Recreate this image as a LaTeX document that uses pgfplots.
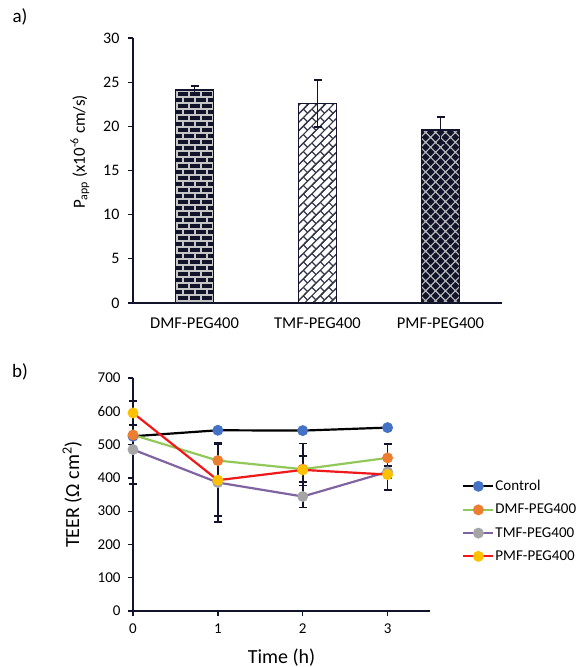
\documentclass[border=0pt]{standalone}
\usepackage{fontspec}
\setmainfont{Carlito}
\usepackage{pgfplots}
\pgfplotsset{compat=1.18}
\usetikzlibrary{patterns,patterns.meta}

\definecolor{dk}{HTML}{11142A}
\definecolor{cblue}{HTML}{4472C4}
\definecolor{corange}{HTML}{ED7D31}
\definecolor{cgray}{HTML}{A5A5A5}
\definecolor{cyellow}{HTML}{FFC000}
\definecolor{lgreen}{HTML}{92C85A}
\definecolor{lpurple}{HTML}{8064A2}
\definecolor{lred}{HTML}{F01818}

% brick tile, used flat for DMF and turned for TMF
\pgfdeclarepattern{
  name=hbricks, type=uncolored,
  bottom left={\pgfpoint{-1pt}{-1pt}},
  top right={\pgfpoint{13pt}{13pt}},
  tile size={\pgfpoint{12pt}{12pt}},
  code={
    \pgfsetlinewidth{1.3pt}
    \pgfpathmoveto{\pgfpoint{-1pt}{0pt}}\pgfpathlineto{\pgfpoint{13pt}{0pt}}
    \pgfpathmoveto{\pgfpoint{-1pt}{6pt}}\pgfpathlineto{\pgfpoint{13pt}{6pt}}
    \pgfpathmoveto{\pgfpoint{-1pt}{12pt}}\pgfpathlineto{\pgfpoint{13pt}{12pt}}
    \pgfpathmoveto{\pgfpoint{3pt}{0pt}}\pgfpathlineto{\pgfpoint{3pt}{6pt}}
    \pgfpathmoveto{\pgfpoint{9pt}{6pt}}\pgfpathlineto{\pgfpoint{9pt}{12pt}}
    \pgfusepath{stroke}
  }
}
\pgfdeclarepattern{
  name=dbricks, type=uncolored,
  bottom left={\pgfpoint{-1pt}{-1pt}},
  top right={\pgfpoint{13pt}{13pt}},
  tile size={\pgfpoint{12pt}{12pt}},
  tile transformation={\pgftransformrotate{45}},
  code={
    \pgfsetlinewidth{1.2pt}
    \pgfpathmoveto{\pgfpoint{-1pt}{0pt}}\pgfpathlineto{\pgfpoint{13pt}{0pt}}
    \pgfpathmoveto{\pgfpoint{-1pt}{6pt}}\pgfpathlineto{\pgfpoint{13pt}{6pt}}
    \pgfpathmoveto{\pgfpoint{-1pt}{12pt}}\pgfpathlineto{\pgfpoint{13pt}{12pt}}
    \pgfpathmoveto{\pgfpoint{3pt}{0pt}}\pgfpathlineto{\pgfpoint{3pt}{6pt}}
    \pgfpathmoveto{\pgfpoint{9pt}{6pt}}\pgfpathlineto{\pgfpoint{9pt}{12pt}}
    \pgfusepath{stroke}
  }
}
\pgfdeclarepattern{
  name=xhatch, type=uncolored,
  bottom left={\pgfpoint{-1pt}{-1pt}},
  top right={\pgfpoint{8pt}{8pt}},
  tile size={\pgfpoint{7pt}{7pt}},
  tile transformation={\pgftransformrotate{45}},
  code={
    \pgfsetlinewidth{1.1pt}
    \pgfpathmoveto{\pgfpoint{-1pt}{0pt}}\pgfpathlineto{\pgfpoint{8pt}{0pt}}
    \pgfpathmoveto{\pgfpoint{0pt}{-1pt}}\pgfpathlineto{\pgfpoint{0pt}{8pt}}
    \pgfusepath{stroke}
  }
}

\pgfplotsset{
  every axis/.append style={
    scale only axis,
    axis x line*=bottom, axis y line*=left,
    axis line style={dk, line width=1.5pt},
    tick style={dk, line width=1.3pt},
    tick align=outside,
    major tick length=5pt,
    /pgf/number format/assume math mode=true,
  },
}

\begin{document}
\begin{tikzpicture}
\path[use as bounding box] (0pt,0pt) rectangle (577pt,-667pt);

\node[font=\fontsize{19}{22}\selectfont] at (20pt,-17pt) {a)};
\node[font=\fontsize{19}{22}\selectfont] at (20pt,-372pt) {b)};

% panel a
\begin{axis}[
  at={(133pt,-303pt)}, anchor=south west,
  width=369pt, height=265pt,
  xmin=-0.5, xmax=2.5, ymin=0, ymax=30,
  ytick={0,5,10,15,20,25,30},
  xtick={0,1,2},
  xticklabels={DMF-PEG400, TMF-PEG400, PMF-PEG400},
  x tick style={draw=none},
  xticklabel style={font=\fontsize{16.5}{20}\selectfont, yshift=-6pt},
  yticklabel style={font=\fontsize{16}{19}\selectfont, xshift=-5pt},
  ylabel={P\textsubscript{app} (x10\textsuperscript{-6} cm/s)},
  ylabel style={font=\fontsize{17}{20}\selectfont, at={(axis description cs:-0.144,0.57)}, anchor=center},
]
\addplot[ybar, bar width=38pt, draw=dk, line width=1.5pt, fill=dk,
  postaction={pattern=hbricks, pattern color=gray!45}] coordinates {(0,24.1)};
\addplot[ybar, bar width=38pt, draw=dk, line width=1.5pt, fill=white,
  postaction={pattern=dbricks, pattern color=dk!85}] coordinates {(1,22.6)};
\addplot[ybar, bar width=38pt, draw=dk, line width=1.5pt, fill=dk,
  postaction={pattern=xhatch, pattern color=gray!55}] coordinates {(2,19.6)};
\addplot[draw=none, mark=none,
  error bars/.cd, y dir=both, y explicit,
  error bar style={draw=dk, line width=1.8pt},
  error mark options={draw=dk, rotate=90, mark size=4pt, line width=1.8pt}]
  coordinates {(0,24.1) +- (0,0.5) (1,22.6) +- (0,2.65) (2,19.6) +- (0,1.5)};
\end{axis}

% panel b
\begin{axis}[
  at={(133pt,-611pt)}, anchor=south west,
  width=297pt, height=233pt,
  xmin=0, xmax=3.5, ymin=0, ymax=700,
  xtick={0,1,2,3},
  ytick={0,100,...,700},
  ticklabel style={font=\fontsize{15}{18}\selectfont},
  yticklabel style={xshift=-4pt},
  xticklabel style={yshift=-4pt},
  xlabel={Time (h)},
  ylabel={TEER (Ω cm\textsuperscript{2})},
  label style={font=\fontsize{20}{24}\selectfont},
  xlabel style={at={(axis description cs:0.5,-0.2)}, anchor=center},
  ylabel style={at={(axis description cs:-0.205,0.5)}, anchor=center},
  clip=false,
  legend style={at={(1.108,0.566)}, anchor=north west, draw=none, fill=none,
    font=\fontsize{15}{18}\selectfont, row sep=10pt, inner sep=0pt,
    nodes={inner sep=1pt}},
  legend cell align=left,
  legend image code/.code={\draw[mark repeat=2, mark phase=2, #1]
    plot coordinates {(0pt,0pt) (15pt,0pt) (30pt,0pt)};},
  every axis plot/.append style={line width=2.2pt, mark=*, mark size=4.3pt},
  error bars/error bar style={draw=dk, line width=1.8pt},
  error bars/error mark options={draw=dk, rotate=90, mark size=4pt, line width=1.8pt},
]
\addplot[black, mark options={fill=cblue, draw=cblue}]
  coordinates {(0,525) (1,543) (2,542) (3,551)};
\addplot[lgreen, mark options={fill=corange, draw=corange},
  error bars/.cd, y dir=both, y explicit]
  coordinates {(0,529) +- (0,8) (1,452) +- (0,53) (2,426) +- (0,39) (3,460) +- (0,41)};
\addplot[lpurple, mark options={fill=cgray, draw=cgray},
  error bars/.cd, y dir=both, y explicit]
  coordinates {(0,485) +- (0,104) (1,386) +- (0,118) (2,344) +- (0,33) (3,418) +- (0,18)};
\addplot[lred, mark options={fill=cyellow, draw=cyellow},
  error bars/.cd, y dir=both, y explicit]
  coordinates {(0,595) +- (0,37) (1,393) +- (0,108) (2,424) +- (0,79) (3,410) +- (0,47)};
\legend{Control, DMF-PEG400, TMF-PEG400, PMF-PEG400}
\end{axis}
\end{tikzpicture}
\end{document}
